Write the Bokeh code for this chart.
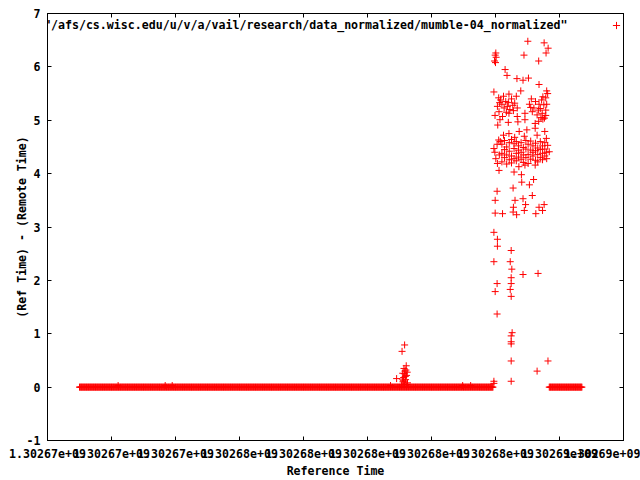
from bokeh.plotting import figure
from bokeh.models import (Range1d, FixedTicker, LinearAxis, Label, Legend, LegendItem,
                          ColumnDataSource)
from bokeh.embed import file_html
from bokeh.resources import INLINE

# ---------------- data ----------------
T0 = 1302670000  # reference time base (s)

# x ticks / labels
x_ticks = [1302670000, 1302672000, 1302674000, 1302676000, 1302678000,
           1302680000, 1302682000, 1302684000, 1302686000, 1302688000]
x_tick_labels = ["1.30267e+09", "1.30267e+09", "1.30267e+09", "1.30268e+09", "1.30268e+09",
                 "1.30268e+09", "1.30268e+09", "1.30268e+09", "1.30269e+09", "1.30269e+09"]
y_ticks = [-1, 0, 1, 2, 3, 4, 5, 6, 7]
y_tick_labels = ["-1", "0", "1", "2", "3", "4", "5", "6", "7"]

x_title = "Reference Time"
y_title = "(Ref Time) - (Remote Time)"

# long runs of samples with offset 0: (start offset, end offset, sample step) in seconds
zero_runs = [(1000, 13920, 20), (15680, 16700, 20)]

# individual samples: offset from T0 (s) and (Ref Time) - (Remote Time)
spike_offsets = [11160, 11080, 11210, 11140, 11170, 11100, 11220, 11130, 11190, 11110,
                 11160, 11250, 11060, 10910, 11200, 11150, 11240, 11120, 11180, 11090, 11230,
                 2207, 3678, 3897, 10720, 12974, 13224]
spike_values = [0.79, 0.67, 0.40, 0.35, 0.30, 0.26, 0.22, 0.18, 0.14, 0.10,
                0.06, 0.08, 0.04, 0.16, 0.32, 0.25, 0.28, 0.12, 0.20, 0.15, 0.05,
                0.03, 0.03, 0.03, 0.03, 0.03, 0.03]

high_offsets = [15010, 15520, 15645, 15580, 14890, 15350, 14010, 13990, 14020, 13970, 14000,
                14300, 14360, 14670, 14860, 15030, 13950, 14790, 15360, 15600, 15630, 15570]
high_values = [6.48, 6.45, 6.35, 6.26, 6.22, 6.11, 6.26, 6.22, 6.18, 6.11, 6.08,
               5.95, 5.84, 5.78, 5.75, 5.79, 5.53, 5.55, 5.67, 5.55, 5.50, 5.42]

upper_offsets = [14160, 14320, 14420, 14650, 14060, 14270, 14370, 14110, 13985, 14420,
                 14680, 14920, 15100, 15200, 15360, 15440, 15510, 15570, 15340, 15460,
                 15570, 14680, 14220, 14540,
                 14100, 14200, 14250, 14400, 14450, 14500, 14560, 14600, 14130, 14340,
                 15060, 15150, 15250, 15300, 15400, 15480, 15530, 15120, 15420, 15600,
                 14070, 14140, 14920, 15240, 15350, 15480, 14700, 14400,
                 14980, 14740, 14420, 15540, 15240, 15590, 14100, 14900, 15300, 14600, 14250]
upper_values = [5.38, 5.35, 5.49, 5.45, 5.26, 5.23, 5.26, 5.16, 5.09, 5.13,
                5.23, 5.13, 5.24, 5.23, 5.30, 5.38, 5.29, 5.19, 5.19, 5.13,
                5.09, 5.07, 5.07, 5.28,
                5.42, 5.30, 5.45, 5.33, 5.20, 5.40, 5.18, 5.32, 5.33, 5.15,
                5.30, 5.16, 5.35, 5.10, 5.22, 5.44, 5.04, 5.40, 5.05, 5.30,
                4.91, 5.01, 5.01, 4.94, 4.98, 5.02, 4.97, 4.96,
                4.82, 4.79, 4.75, 4.79, 4.85, 4.66, 4.63, 4.70, 4.72, 4.68, 4.72]

lower_offsets = [13950, 14010, 14060, 14110, 15680, 15630, 15240, 14920, 14730,
                 14200, 14200, 14200, 14280, 14280, 14280, 14350, 14350, 14350,
                 14430, 14430, 14430, 14500, 14500, 14500, 14580, 14580, 14580,
                 14650, 14650, 14650, 14720, 14720, 14720, 14800, 14800, 14800,
                 14870, 14870, 14870, 14950, 14950, 14950, 15020, 15020, 15020,
                 15100, 15100, 15100, 15170, 15170, 15170, 15250, 15250, 15250,
                 15320, 15320, 15320, 15400, 15400, 15400, 15470, 15470, 15470,
                 15540, 15540, 15540, 15600, 15600,
                 13980, 14050, 14120, 14150]
lower_values = [4.47, 4.28, 4.19, 4.06, 4.41, 4.53, 4.16, 4.16, 4.13,
                4.55, 4.38, 4.22, 4.62, 4.30, 4.45, 4.50, 4.18, 4.35,
                4.58, 4.26, 4.42, 4.64, 4.33, 4.20, 4.47, 4.28, 4.56,
                4.38, 4.60, 4.24, 4.52, 4.31, 4.44, 4.27, 4.58, 4.40,
                4.49, 4.21, 4.35, 4.62, 4.30, 4.46, 4.36, 4.55, 4.19,
                4.44, 4.27, 4.61, 4.52, 4.33, 4.40, 4.25, 4.57, 4.43,
                4.48, 4.36, 4.22, 4.60, 4.30, 4.45, 4.38, 4.52, 4.26,
                4.46, 4.33, 4.58, 4.40, 4.28,
                4.40, 4.55, 4.35, 4.60]

tail_offsets = [14580, 14810, 15190, 15060, 14820, 14050, 14550, 13990, 14610, 14860,
                14940, 15150, 15520, 15360, 14560, 13990, 14220, 14550, 14660, 14900,
                15260, 15470, 13950, 14060, 14060, 14490, 13950, 14460, 14510, 14860,
                15330, 14490, 14050, 14490, 13990, 14460, 14490, 14050, 14520, 14490,
                14490, 14490, 14490, 15640, 15300, 14490, 13950, 13950]
tail_values = [4.03, 3.98, 3.89, 3.79, 3.84, 3.67, 3.73, 3.50, 3.50, 3.53,
               3.42, 3.59, 3.42, 3.37, 3.37, 3.26, 3.25, 3.28, 3.23, 3.31,
               3.25, 3.31, 2.90, 2.77, 2.64, 2.56, 2.35, 2.35, 2.21, 2.11,
               2.13, 2.05, 1.94, 1.94, 1.79, 1.83, 1.70, 1.37, 1.02, 0.96,
               0.85, 0.81, 0.49, 0.49, 0.30, 0.11, 0.11, 0.07]

series_name = '"/afs/cs.wisc.edu/u/v/a/vail/research/data_normalized/mumble-04_normalized"'

# ---------------- build table ----------------
xs, ys = [], []
for start, end, step in zero_runs:
    t = start
    while t <= end:
        xs.append(T0 + t)
        ys.append(0.0)
        t += step
for offs, vals in [(spike_offsets, spike_values), (high_offsets, high_values),
                   (upper_offsets, upper_values), (lower_offsets, lower_values),
                   (tail_offsets, tail_values)]:
    xs.extend(T0 + o for o in offs)
    ys.extend(vals)
src = ColumnDataSource(dict(x=xs, y=ys))

FONT = "DejaVu Sans Mono"
FS = "11.6px"
RED = "#ff0000"

p = figure(width=640, height=480, output_backend="svg", toolbar_location=None,
           x_range=Range1d(x_ticks[0], x_ticks[-1]), y_range=Range1d(y_ticks[0], y_ticks[-1]),
           min_border_left=47, min_border_right=17, min_border_top=13, min_border_bottom=40,
           x_axis_label=x_title, y_axis_label=y_title)
p.grid.visible = False
p.outline_line_color = "black"
p.outline_line_width = 1
p.background_fill_color = "white"
p.border_fill_color = "white"

r = p.scatter("x", "y", source=src, marker="cross", size=7, line_color=RED, line_width=1)

for ax in p.xaxis:
    ax.ticker = FixedTicker(ticks=x_ticks)
    ax.major_label_overrides = {t: l for t, l in zip(x_ticks, x_tick_labels)}
for ax in p.yaxis:
    ax.ticker = FixedTicker(ticks=y_ticks)
    ax.major_label_overrides = {t: l for t, l in zip(y_ticks, y_tick_labels)}

for ax in list(p.xaxis) + list(p.yaxis):
    ax.minor_tick_line_color = None
    ax.major_tick_in = 4
    ax.major_tick_out = 0
    ax.axis_line_color = "black"
    ax.major_label_text_font = FONT
    ax.major_label_text_font_size = FS
    ax.major_label_text_font_style = "bold"
    ax.major_label_text_color = "black"
    ax.axis_label_text_font = FONT
    ax.axis_label_text_font_size = FS
    ax.axis_label_text_font_style = "bold"
    ax.axis_label_text_color = "black"
p.xaxis.major_label_standoff = 8
p.xaxis.axis_label_standoff = 3
p.yaxis.major_label_standoff = 7
p.yaxis.axis_label_standoff = -5

# mirrored ticks on top and right (no labels drawn)
top = LinearAxis(ticker=FixedTicker(ticks=x_ticks), major_label_text_font_size="1px",
                 major_label_text_color=None, major_label_standoff=0,
                 major_tick_in=4, major_tick_out=0,
                 minor_tick_line_color=None, axis_line_color="black")
right = LinearAxis(ticker=FixedTicker(ticks=y_ticks), major_label_text_font_size="1px",
                   major_label_text_color=None, major_label_standoff=0,
                   major_tick_in=4, major_tick_out=0,
                   minor_tick_line_color=None, axis_line_color="black")
p.add_layout(top, "above")
p.add_layout(right, "right")

# key: text then marker sample, top right inside the frame
key_text = Label(x=520, y=415.5, x_units="screen", y_units="screen", text=series_name,
                 text_align="right", text_baseline="middle", text_font=FONT,
                 text_font_size=FS, text_font_style="bold", text_color="black")
p.add_layout(key_text)
legend = Legend(items=[LegendItem(label="", renderers=[r])], location=(559.5, 406),
                glyph_width=18, glyph_height=18, label_width=0, label_height=18,
                label_standoff=0, padding=0, margin=0, spacing=0,
                border_line_alpha=0, background_fill_alpha=0,
                label_text_font_size="1px", label_text_color=None)
p.add_layout(legend, "center")

open("out.html", "w").write(file_html(p, INLINE))
